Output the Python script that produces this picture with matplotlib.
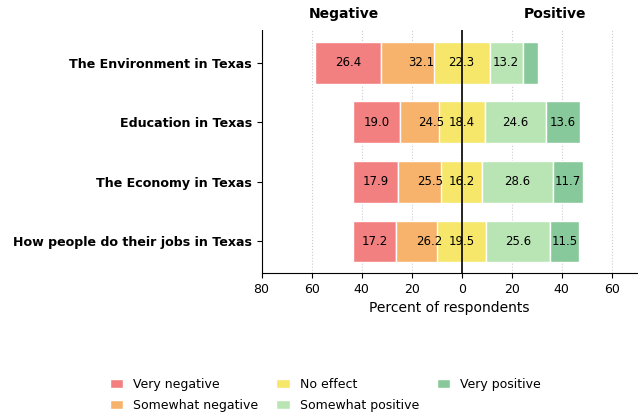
import matplotlib
import matplotlib.pyplot as plt
import numpy as np

matplotlib.use("Agg")

# Survey topics, bottom to top as drawn
topics = [
    "How people do their jobs in Texas",
    "The Economy in Texas",
    "Education in Texas",
    "The Environment in Texas",
]
very_negative = [17.2, 17.9, 19.0, 26.4]
somewhat_negative = [26.2, 25.5, 24.5, 32.1]
no_effect = [19.5, 16.2, 18.4, 22.3]
somewhat_positive = [25.6, 28.6, 24.6, 13.2]
very_positive = [11.5, 11.7, 13.6, 6.0]

colors = {
    "Very negative": "#f28080",
    "Somewhat negative": "#f7b26b",
    "No effect": "#f6e76a",
    "Somewhat positive": "#b9e5b4",
    "Very positive": "#87c99b",
}

vn = np.array(very_negative)
sn = np.array(somewhat_negative)
ne = np.array(no_effect)
sp = np.array(somewhat_positive)
vp = np.array(very_positive)
y = np.arange(len(topics))

fig = plt.figure(figsize=(6.38, 4.15), dpi=100)
ax = fig.add_axes([0.41, 0.342, 0.588, 0.586])

h = 0.7
segments = [
    ("Very negative", -(vn + sn), vn),
    ("Somewhat negative", -sn, sn),
    ("No effect", -ne / 2, ne),
    ("Somewhat positive", ne / 2, sp),
    ("Very positive", ne / 2 + sp, vp),
]
for name, left, width in segments:
    ax.barh(y, width, left=left, height=h, color=colors[name],
            edgecolor="white", linewidth=1, label=name, zorder=2)
    for yi, l, w in zip(y, left, width):
        if w >= 8:
            ax.text(l + w / 2, yi, f"{w:.1f}", ha="center", va="center",
                    fontsize=8.5, zorder=4)

ax.axvline(0, color="black", linewidth=1.2, zorder=3)

ax.set_xlim(-80, 70)
ax.set_ylim(-0.53, 3.55)
ticks = np.arange(-80, 61, 20)
ax.set_xticks(ticks)
ax.set_xticklabels([str(abs(t)) for t in ticks], fontsize=9)
ax.set_yticks(y)
ax.set_yticklabels(topics, fontsize=9.1, fontweight="bold")
ax.set_xlabel("Percent of respondents", fontsize=10)
ax.grid(axis="x", linestyle=":", color="#cccccc", linewidth=0.8, zorder=0)
ax.set_axisbelow(True)
for side in ["top", "right"]:
    ax.spines[side].set_visible(False)

trans = ax.get_xaxis_transform()
ax.text(-47, 1.035, "Negative", transform=trans, ha="center", va="bottom",
        fontsize=10, fontweight="bold")
ax.text(37.5, 1.035, "Positive", transform=trans, ha="center", va="bottom",
        fontsize=10, fontweight="bold")

fig.legend(loc="lower center", bbox_to_anchor=(0.51, -0.02), ncol=3,
           frameon=False, fontsize=9, handlelength=1.1, handleheight=0.7,
           columnspacing=1.4, labelspacing=0.65)

fig.savefig("out.png", dpi=100)
